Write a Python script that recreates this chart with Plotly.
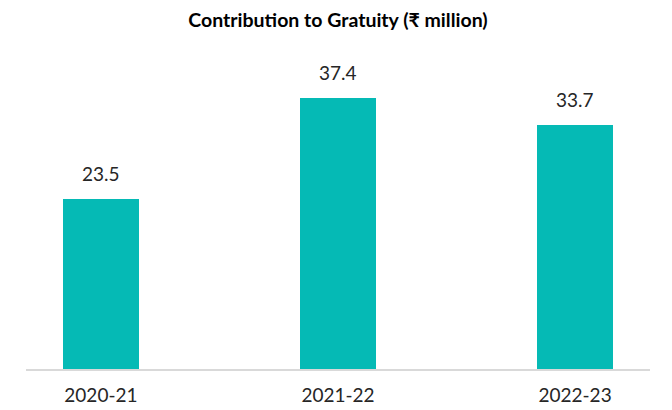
import plotly.graph_objects as go

years = ['2020-21', '2021-22', '2022-23']
gratuity = [23.5, 37.4, 33.7]

fig = go.Figure(go.Bar(
    x=years, y=gratuity,
    marker=dict(color='#05BAB5', line=dict(width=0)),
    width=0.32,
    cliponaxis=False,
))

# value labels above bars
for yr, v in zip(years, gratuity):
    fig.add_annotation(x=yr, y=v, text=f'{v:.1f}', showarrow=False,
                       yanchor='bottom', yshift=12,
                       font=dict(family='Lato', size=19, color='#262626'))

fig.update_layout(
    width=672, height=410,
    margin=dict(l=18, r=30, t=52, b=48.5),
    paper_bgcolor='white', plot_bgcolor='white',
    title=dict(text='<b>Contribution to Gratuity (₹ million)</b>', x=0.5, xanchor='center',
               xref='paper', y=0.971, yanchor='middle',
               font=dict(family='Lato', size=19.5, color='black')),
    showlegend=False,
    bargap=0,
)
fig.update_xaxes(range=[-0.316, 2.316], showline=True, linecolor='#D9D9D9', linewidth=2,
                 ticks='', ticklabelstandoff=8,
                 tickfont=dict(family='Lato', size=19, color='#262626'), showgrid=False)
fig.update_yaxes(range=[0, 42.6], visible=False, showgrid=False)

fig.write_html("out.html")
